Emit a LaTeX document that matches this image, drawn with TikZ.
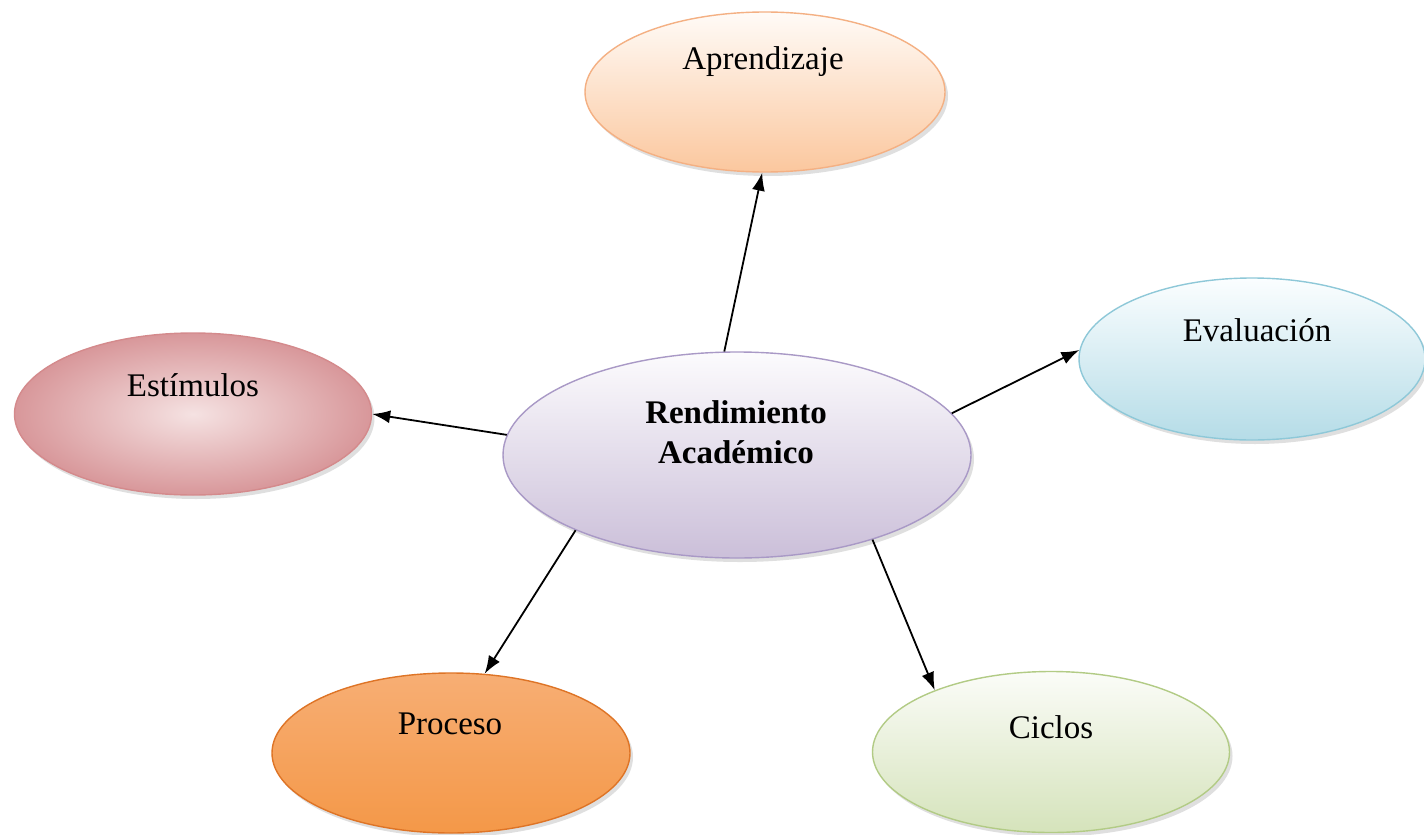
\documentclass[tikz,border=0pt]{standalone}
\usepackage{fontspec}
\setmainfont{Liberation Serif}
\usetikzlibrary{shapes.geometric,arrows.meta,shadows}
\tikzset{
  bub/.style={ellipse, inner sep=0pt, line width=1.4pt, shading=axis,
    drop shadow={opacity=0.25, shadow xshift=3pt, shadow yshift=-4pt}},
  txt/.style={font=\fontsize{33}{38}\selectfont, inner sep=0pt, anchor=center},
  arr/.style={line width=1.8pt, -{Latex[length=18pt,width=13pt]}}
}
\definecolor{aprT}{HTML}{FFFBF7}\definecolor{aprB}{HTML}{FBC79E}\definecolor{aprD}{HTML}{F4B083}
\definecolor{evaT}{HTML}{FBFEFF}\definecolor{evaB}{HTML}{B5DCE7}\definecolor{evaD}{HTML}{8EC8D8}
\definecolor{estT}{HTML}{F5E2E2}\definecolor{estB}{HTML}{D8979A}\definecolor{estD}{HTML}{D48A8C}
\definecolor{renT}{HTML}{FCFBFD}\definecolor{renB}{HTML}{CBBFD9}\definecolor{renD}{HTML}{A999C6}
\definecolor{proT}{HTML}{F7AE74}\definecolor{proM}{HTML}{F28A30}\definecolor{proB}{HTML}{F49848}\definecolor{proD}{HTML}{DE7426}
\definecolor{cicT}{HTML}{FBFCF8}\definecolor{cicB}{HTML}{D5E3BB}\definecolor{cicD}{HTML}{B2CB85}
\begin{document}
\begin{tikzpicture}[x=1pt,y=-1pt]
\useasboundingbox[fill=white] (0,0) rectangle (1424,835);
\node[bub, minimum width=360pt, minimum height=160pt, top color=aprT, bottom color=aprB, draw=aprD] (apr) at (765,92) {};
\node[bub, minimum width=346pt, minimum height=162pt, top color=evaT, bottom color=evaB, draw=evaD] (eva) at (1252,359) {};
\node[bub, minimum width=357pt, minimum height=162pt, draw=estD, shading=radial, inner color=estT, outer color=estB] (est) at (193,414) {};
\node[bub, minimum width=468pt, minimum height=206pt, top color=renT, bottom color=renB, draw=renD] (ren) at (737,455) {};
\node[bub, minimum width=358pt, minimum height=160pt, top color=proT, middle color=proM, bottom color=proB, draw=proD] (pro) at (451,753) {};
\node[bub, minimum width=357pt, minimum height=161pt, top color=cicT, bottom color=cicB, draw=cicD] (cic) at (1051,752) {};

\node[txt] (aprt) at (763,62) {Aprendizaje};
\node[txt] (evat) at (1257,330) {Evaluación};
\node[txt] (estt) at (193,385) {Estímulos};
\node[txt, font=\fontsize{33}{40}\selectfont\bfseries, align=center] (rent) at (736,432) {Rendimiento\\Académico};
\node[txt] (prot) at (450,724) {Proceso};
\node[txt] (cict) at (1051,727) {Ciclos};

\draw[arr] (ren.97) -- (apr.268);
\draw[arr] (ren.11.8) -- (eva.177);
\draw[arr] (ren.175.3) -- (est.0);
\draw[arr] (ren.205.5) -- (pro.67.8);
\draw[arr] (ren.-32.7) -- (cic.152.4);
\end{tikzpicture}
\end{document}
